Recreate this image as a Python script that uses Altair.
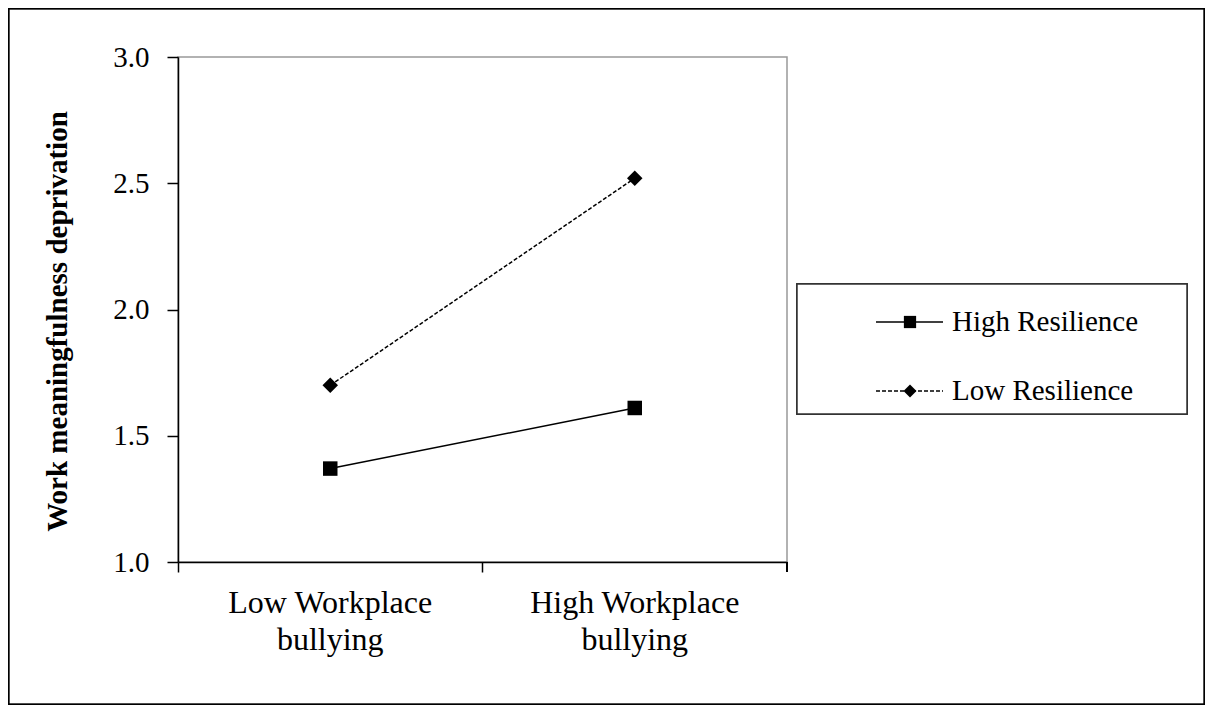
import altair as alt
import pandas as pd

# ---- data ----
categories = ["Low Workplace bullying", "High Workplace bullying"]
series = ["High Resilience", "Low Resilience"]
high_resilience = [1.37, 1.61]
low_resilience = [1.70, 2.52]
y_ticks = [1.0, 1.5, 2.0, 2.5, 3.0]

rows = []
for c, v in zip(categories, high_resilience):
    rows.append({"cat": c, "series": series[0], "value": v})
for c, v in zip(categories, low_resilience):
    rows.append({"cat": c, "series": series[1], "value": v})
df = pd.DataFrame(rows)

W, H = 609, 505
FONT = "Liberation Serif"

xenc = alt.X(
    "cat:N",
    sort=categories,
    scale=alt.Scale(type="band", paddingInner=0, paddingOuter=0),
    axis=alt.Axis(
        title=None, labelAngle=0, bandPosition=0, tickSize=10, labelPadding=15,
        labelFont=FONT, labelFontSize=32, labelColor="black", labelLineHeight=37,
        labelLimit=0,
        labelExpr="[slice(datum.label, 0, lastindexof(datum.label, ' ')), slice(datum.label, lastindexof(datum.label, ' ') + 1)]",
        domainColor="black", tickColor="black", domainWidth=1.5, tickWidth=1.5,
        labelBaseline="top",
    ),
)
yenc = alt.Y(
    "value:Q",
    scale=alt.Scale(domain=[1.0, 3.0], nice=False, zero=False),
    axis=alt.Axis(
        values=y_ticks, format=".1f", grid=False, tickSize=11, labelPadding=18,
        labelFont=FONT, labelFontSize=29, labelColor="black",
        domainColor="black", tickColor="black", domainWidth=1.5, tickWidth=1.5,
        title="Work meaningfulness  deprivation", titleFont=FONT, titleFontSize=29,
        titleFontWeight="bold", titleColor="black", titleX=-121, titleY=264,
        titleAngle=-90, titleAlign="center", titleBaseline="middle",
    ),
)

hi = df[df.series == series[0]]
lo = df[df.series == series[1]]

line_hi = alt.Chart(hi).mark_line(color="black", strokeWidth=1.5).encode(x=xenc, y=yenc)
line_lo = alt.Chart(lo).mark_line(color="black", strokeWidth=1.5, strokeDash=[4, 2]).encode(x=xenc, y=yenc)
pt_hi = alt.Chart(hi).mark_point(shape="square", filled=True, color="black", size=210, opacity=1).encode(x=xenc, y=yenc)
pt_lo = alt.Chart(lo).mark_point(shape="diamond", filled=True, color="black", size=240, opacity=1).encode(x=xenc, y=yenc)

end_tick = alt.Chart(df).mark_rule(color="black", strokeWidth=1.5).encode(
    x=alt.value(W), y=alt.value(H), y2=alt.value(H + 10)
)

# outer frame
frame = alt.Chart(df).mark_rect(fill=None, stroke="black", strokeWidth=1.5).encode(
    x=alt.value(-169.5), x2=alt.value(1026.5), y=alt.value(-48.5), y2=alt.value(647.5)
)

# legend box
legend_box = alt.Chart(df).mark_rect(fill="white", stroke="#333333", strokeWidth=1.5).encode(
    x=alt.value(619), x2=alt.value(1009), y=alt.value(227), y2=alt.value(357)
)
leg_layers = []
leg_y = [265, 334]
for i, s in enumerate(series):
    d = pd.DataFrame({"series": [s]})
    yy = leg_y[i]
    kw = {"strokeDash": [4, 2]} if i == 1 else {}
    leg_layers.append(
        alt.Chart(d).mark_rule(color="black", strokeWidth=1.5, **kw).encode(
            x=alt.value(698), x2=alt.value(765), y=alt.value(yy)
        )
    )
    leg_layers.append(
        alt.Chart(d).mark_point(shape="square" if i == 0 else "diamond", filled=True,
                                color="black", size=150 if i == 0 else 170, opacity=1).encode(
            x=alt.value(732), y=alt.value(yy)
        )
    )
    leg_layers.append(
        alt.Chart(d).mark_text(align="left", baseline="middle", font=FONT, fontSize=29, color="black").encode(
            x=alt.value(774), y=alt.value(yy), text="series:N"
        )
    )

chart = alt.layer(
    frame, line_hi, line_lo, pt_hi, pt_lo, end_tick, legend_box, *leg_layers
).properties(
    width=W, height=H,
    autosize=alt.AutoSizeParams(type="none"),
    padding={"left": 170, "top": 49, "right": 418, "bottom": 143},
    background="white",
).configure_view(
    stroke="#999999", strokeWidth=1.5
)

chart.save("out.html", embed_options={"renderer": "svg", "actions": False})
